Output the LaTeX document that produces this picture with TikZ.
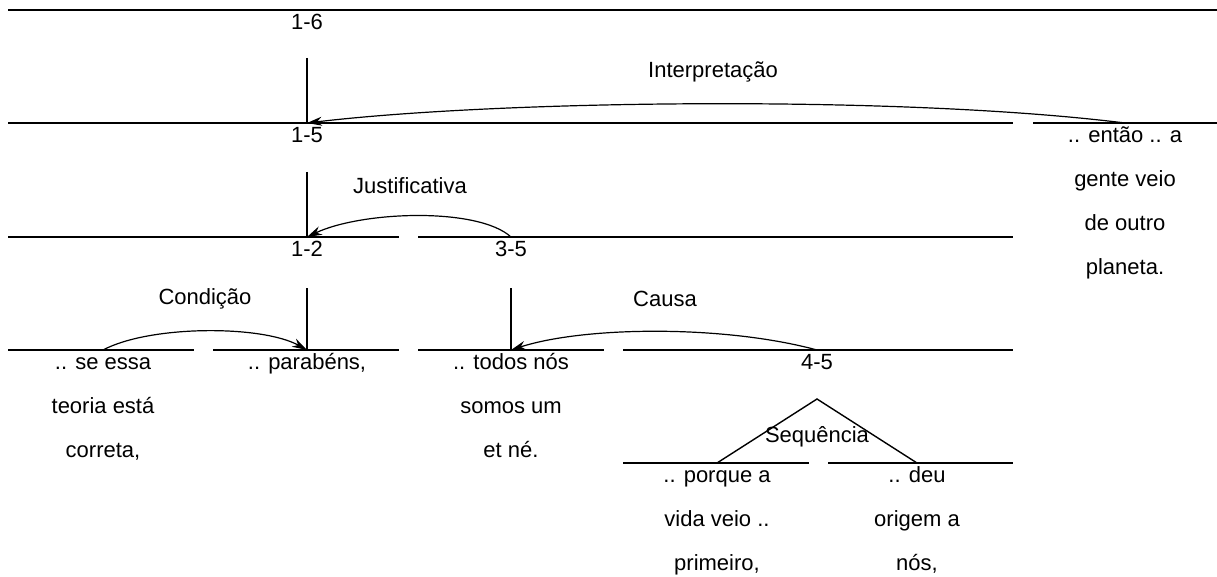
\documentclass[tikz,border=0pt]{standalone}
\usepackage{fontspec}
\setmainfont{Liberation Sans}
\usetikzlibrary{arrows.meta}
\newcommand\topln{\rule{0pt}{16pt}}
\begin{document}
\begin{tikzpicture}[x=1pt,y=-1pt,line width=1.4pt,
  lab/.style={anchor=north,inner sep=3pt,align=center,font=\fontsize{22}{44}\selectfont},
  rellab/.style={inner sep=1pt,font=\fontsize{22}{25}\selectfont},
  rel/.style={-{Stealth[length=15pt,width=9pt]},line width=1.2pt}]
  \useasboundingbox (0,0) rectangle (1217,577);
  % horizontal spans
  \foreach \a/\b/\y in {8/1217/10, 8/1013/123, 1033/1217/123, 8/399/237, 418/1013/237,
      8/194/350, 213/399/350, 418/604/350, 623/1013/350, 623/809/463, 828/1013/463}
    \draw (\a,\y) -- (\b,\y);
  % span labels
  \node[lab] (n16) at (307,10) {\topln 1-6};
  \node[lab] (n15) at (307,123) {\topln 1-5};
  \node[lab] (n12) at (307,237) {\topln 1-2};
  \node[lab] (n35) at (511,237) {\topln 3-5};
  \node[lab] (n45) at (817,350) {\topln 4-5};
  % units
  \node[lab] (u1) at (103,350) {\topln .. se essa\\teoria está\\correta,};
  \node[lab] (u2) at (307,350) {\topln .. parabéns,};
  \node[lab] (u3) at (511,350) {\topln .. todos nós\\somos um\\et né.};
  \node[lab] (u4) at (717,463) {\topln .. porque a\\vida veio ..\\primeiro,};
  \node[lab] (u5) at (917,463) {\topln .. deu\\origem a\\nós,};
  \node[lab] (u6) at (1125,123) {\topln .. então .. a\\gente veio\\de outro\\planeta.};
  % relation names
  \node[rellab] (interp) at (713,72) {Interpretação};
  \node[rellab] (justif) at (410,186) {Justificativa};
  \node[rellab] (cond) at (205,299) {Condição};
  \node[rellab] (causa) at (665,299) {Causa};
  \node[rellab] (seq) at (817,437) {Sequência};
  % nuclei
  \draw (307,58) -- (n15.north);
  \draw (307,172) -- (n12.north);
  \draw (307,288) -- (u2.north);
  \draw (511,288) -- (u3.north);
  \coordinate (top45) at (817,399);
  \draw (u4.north) -- (top45) -- (u5.north);
  % relations
  \draw[rel] (u6.north) .. controls (900,95) and (500,100) .. (n15.north);
  \draw[rel] (n35.north) .. controls (478,207) and (362,211) .. (n12.north);
  \draw[rel] (u1.north) .. controls (150,325) and (262,325) .. (u2.north);
  \draw[rel] (n45.north) .. controls (725,325) and (585,326) .. (u3.north);
\end{tikzpicture}
\end{document}
